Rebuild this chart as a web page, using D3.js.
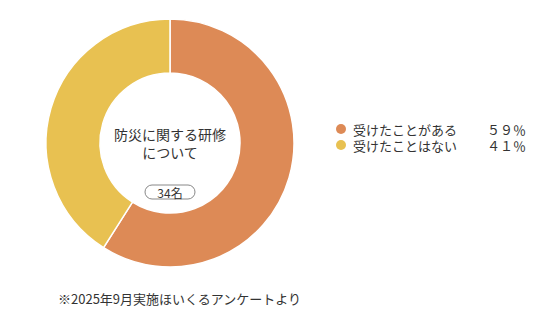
<!DOCTYPE html>
<html>
<head>
<meta charset="utf-8">
<script src="https://cdn.jsdelivr.net/npm/d3@7"></script>
<style>
  body { margin: 0; background: #fff; }
  text { font-family: "Noto Sans CJK JP", "Noto Sans", sans-serif; fill: #333; }
</style>
</head>
<body>
<svg></svg>
<script>
// chart data
var categories = ["受けたことがある", "受けたことはない"];
var values = [59, 41];
var percentLabels = ["５９％", "４１％"];
var colors = ["#dd8a56", "#e8c151"];
var titleLines = ["防災に関する研修", "について"];
var countLabel = "34名";
var note = "※2025年9月実施ほいくるアンケートより";

var width = 560;
var height = 320;
var cx = 170, cy = 143;
var outerR = 124, innerR = 70;

var svg = d3.select('svg')
	.attr('width', width)
	.attr('height', height);

var pie = d3.pie().sort(null).value(d => d);
var arc = d3.arc().innerRadius(innerR).outerRadius(outerR);

var g = svg.append('g').attr('transform', 'translate(' + cx + ',' + cy + ')');

g.selectAll('path')
	.data(pie(values))
	.enter()
	.append('path')
	.attr('d', arc)
	.attr('fill', (d, i) => colors[i])
	.attr('stroke', '#fff')
	.attr('stroke-width', 1.5);

// centre title
g.selectAll('text.title')
	.data(titleLines)
	.enter()
	.append('text')
	.attr('class', 'title')
	.attr('x', 0)
	.attr('y', (d, i) => -9 + i * 18)
	.attr('text-anchor', 'middle')
	.attr('dominant-baseline', 'central')
	.style('font-size', '14px')
	.text(d => d);

// count pill
g.append('rect')
	.attr('x', -25)
	.attr('y', 42)
	.attr('width', 50)
	.attr('height', 14)
	.attr('rx', 7)
	.attr('fill', '#fff')
	.attr('stroke', '#888')
	.attr('stroke-width', 1);

g.append('text')
	.attr('x', 0)
	.attr('y', 49.5)
	.attr('text-anchor', 'middle')
	.attr('dominant-baseline', 'central')
	.style('font-size', '12px')
	.text(countLabel);

// legend
var legend = svg.selectAll('g.legend')
	.data(categories)
	.enter()
	.append('g')
	.attr('class', 'legend')
	.attr('transform', (d, i) => 'translate(341,' + (129 + i * 16) + ')');

legend.append('circle')
	.attr('r', 5)
	.attr('fill', (d, i) => colors[i]);

legend.append('text')
	.attr('x', 12)
	.attr('dominant-baseline', 'central')
	.style('font-size', '13px')
	.text(d => d);

legend.append('text')
	.attr('x', 146)
	.attr('dominant-baseline', 'central')
	.style('font-size', '13px')
	.text((d, i) => percentLabels[i]);

// footnote
svg.append('text')
	.attr('x', 58)
	.attr('y', 298)
	.attr('dominant-baseline', 'central')
	.style('font-size', '13px')
	.text(note);
</script>
</body>
</html>
